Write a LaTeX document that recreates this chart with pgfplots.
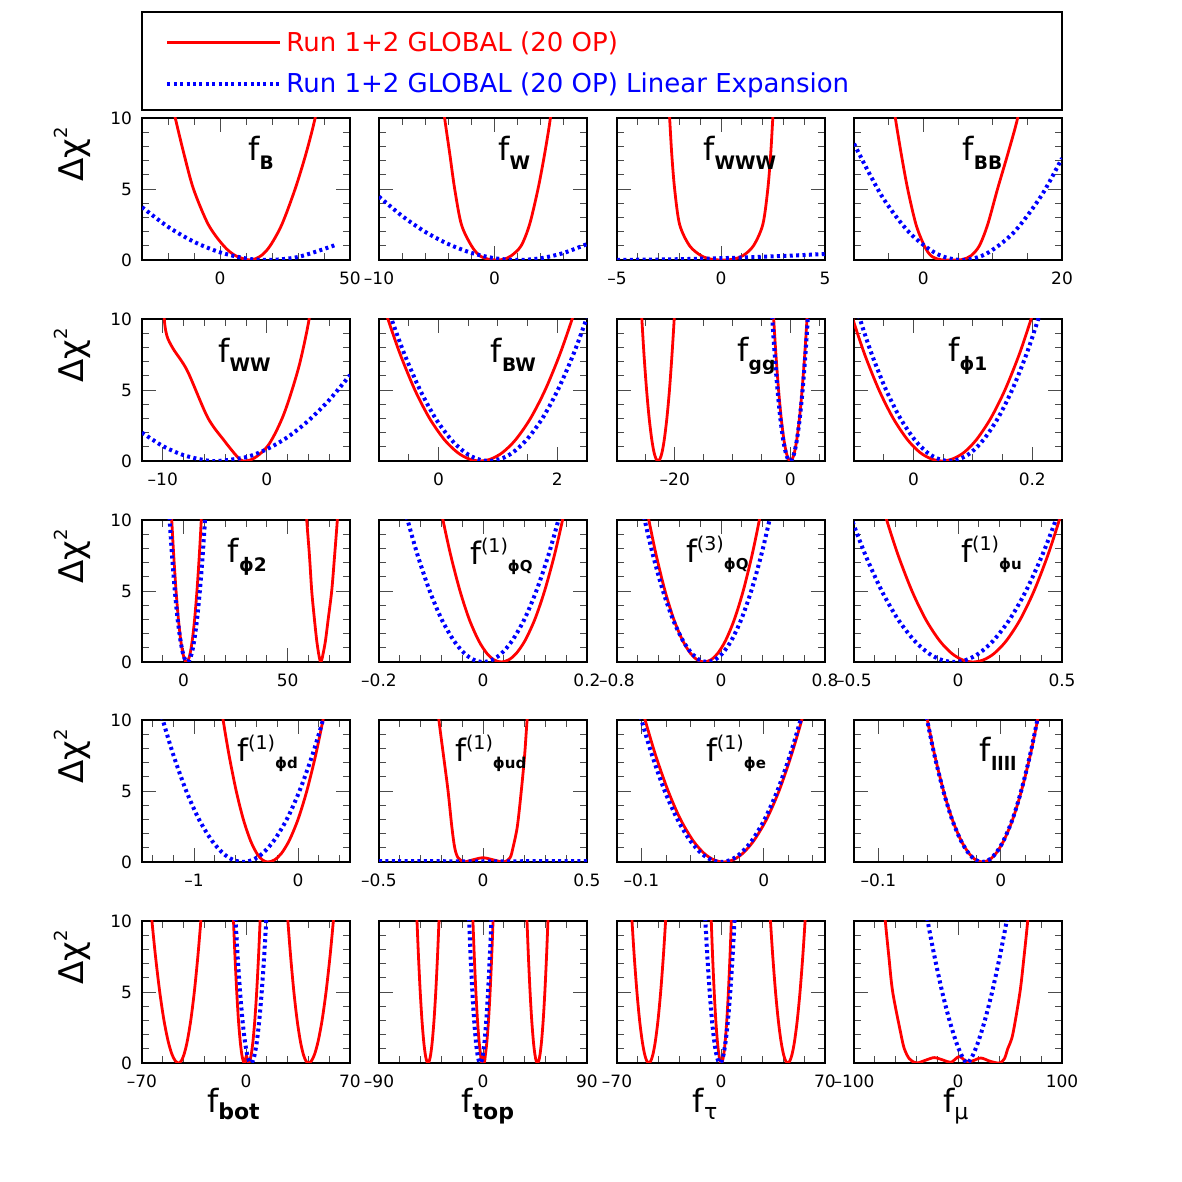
\documentclass[border=0pt]{standalone}
\usepackage{pgfplots}
\pgfplotsset{compat=1.18}
\usepackage{fontspec}
\setmainfont{DejaVu Sans}

% panel titles: f with subscript, or with superscript and subscript
\newcommand{\fs}[1]{{\fontsize{16}{16}\selectfont f}\raisebox{-4.5pt}{\fontsize{9.3}{10}\selectfont\bfseries #1}}
\newcommand{\fss}[2]{{\fontsize{15.5}{16}\selectfont f}\raisebox{6pt}{\fontsize{9.5}{10}\selectfont #1}\raisebox{-3.5pt}{\fontsize{7.5}{8}\selectfont\bfseries #2}}
\newcommand{\fx}[1]{{\fontsize{16}{16}\selectfont f}\raisebox{-3.5pt}{\fontsize{11}{12}\selectfont #1}}
\newcommand{\dchi}{{\fontsize{17}{17}\selectfont Δχ}\raisebox{8pt}{\fontsize{9}{10}\selectfont 2}}
\newcommand{\ttl}[3]{\node[anchor=base west, inner sep=0pt] at (rel axis cs:#1,#2) {#3};}

\pgfplotsset{
  panel/.style={
    scale only axis, width=104pt, height=71pt,
    ymin=0, ymax=10,
    ytick={0,5,10}, yticklabels={0,5,10},
    minor ytick={1,2,3,4,6,7,8,9},
    tick align=inside, xtick pos=both, ytick pos=both,
    major tick length=7pt, minor tick length=3.7pt,
    tick style={black!70, line width=0.45pt},
    axis line style={line width=0.6pt},
    tick label style={font=\fontsize{8.5}{10}\selectfont},
    xticklabel style={yshift=-2.5pt},
    yticklabel style={xshift=-1.5pt},
    every axis y label/.style={at={(axis description cs:-0.279,0.986)}, anchor=base east, rotate=90},
    clip=true,
  },
  nolab/.style={yticklabels={}},
  pr/.style={red, line width=1.4pt, smooth},
  pb/.style={blue, line width=2pt, dash pattern=on 1.5pt off 1.7pt, smooth},
}

\begin{document}
\begin{tikzpicture}
\path[use as bounding box] (0,0) rectangle (591pt,591pt);

% ---------------- legend ----------------
\begin{axis}[at={(71pt,536pt)}, anchor=south west, scale only axis,
  width=460pt, height=49pt, xmin=0, xmax=1, ymin=0, ymax=1,
  xtick=\empty, ytick=\empty, axis line style={line width=0.6pt},
  legend cell align=left,
  legend style={at={(axis description cs:0,0.5)}, anchor=west, xshift=11.5pt, yshift=-1.2pt,
    draw=none, fill=none, font=\fontsize{13}{14}\selectfont, row sep=5.3pt, inner sep=0pt},
  legend image code/.code={\draw[#1] (0pt,0pt) -- (56.5pt,0pt);},
]
\addlegendimage{red, line width=1.4pt}
\addlegendentry{\textcolor{red}{Run 1+2 GLOBAL (20 OP)}}
\addlegendimage{blue, line width=2pt, dash pattern=on 1.5pt off 1.7pt}
\addlegendentry{\textcolor{blue}{Run 1+2 GLOBAL (20 OP) Linear Expansion}}
\end{axis}

% ---------------- row 1 ----------------
\begin{axis}[panel, at={(71pt,461pt)}, anchor=south west, xmin=-30, xmax=50,
  xtick={0,50}, xticklabels={0,50}, minor xtick={-20,-10,...,40}, ylabel={\dchi}]
\addplot[pr] coordinates {(-19.5,12) (-17.2,10) (-13.9,7.5) (-10.2,5) (-4.5,2.5) (1.4,1) (6,0.3) (11.6,0) (15.8,0.3) (19.3,1) (23.8,2.5) (28.9,5) (33.1,7.5) (36.6,10) (38.5,12)};
\addplot[pb] coordinates {(-30,3.72) (-20,2.34) (-10,1.28) (0,0.54) (10,0.11) (18.5,0) (30,0.21) (44,1.03)};
\ttl{0.51}{0.70}{\fs{B}}
\end{axis}

\begin{axis}[panel, nolab, at={(189.5pt,461pt)}, anchor=south west, xmin=-10, xmax=8,
  xtick={-10,0}, xticklabels={–10,0}, minor xtick={-8,-6,-4,-2,2,4,6}]
\addplot[pr] coordinates {(-4.6,12) (-4.32,10) (-3.88,7.5) (-3.45,5) (-2.87,2.5) (-2.0,1) (-1.28,0.3) (-0.5,0.05) (0.2,0) (0.8,0.05) (1.45,0.3) (2.3,1) (3.03,2.5) (3.76,5) (4.34,7.5) (4.83,10) (5.05,12)};
\addplot[pb] coordinates {(-10,4.46) (-8,3.1) (-6,1.98) (-4,1.12) (-2,0.5) (0,0.124) (2,0) (4,0.124) (6,0.5) (8,1.12)};
\ttl{0.572}{0.70}{\fs{W}}
\end{axis}

\begin{axis}[panel, nolab, at={(308.5pt,461pt)}, anchor=south west, xmin=-5, xmax=5,
  xtick={-5,0,5}, xticklabels={–5,0,5}, minor xtick={-4,-3,-2,-1,1,2,3,4}]
\addplot[pr] coordinates {(-2.55,12) (-2.47,10) (-2.37,7.5) (-2.23,5) (-1.99,2.5) (-1.51,1) (-0.95,0.3) (-0.45,0.05) (0.05,0) (0.55,0.05) (1.05,0.3) (1.56,1) (2.01,2.5) (2.25,5) (2.39,7.5) (2.49,10) (2.57,12)};
\addplot[pb] coordinates {(-5,0.004) (-2.5,0.043) (0,0.126) (2.5,0.253) (5,0.42)};
\ttl{0.413}{0.70}{\fs{WWW}}
\end{axis}

\begin{axis}[panel, nolab, at={(427pt,461pt)}, anchor=south west, xmin=-10, xmax=20,
  xtick={0,20}, xticklabels={0,20}, minor xtick={-5,5,10,15}]
\addplot[pr] coordinates {(-4.6,12) (-4.04,10) (-3.2,7.5) (-2.26,5) (-1.06,2.5) (0.14,1) (1.1,0.3) (2.4,0.03) (4,0) (5.6,0.03) (6.87,0.3) (8.08,1) (9.28,2.5) (10.7,5) (12.2,7.5) (13.6,10) (14.2,12)};
\addplot[pb] coordinates {(-10,8.19) (-6,4.51) (-2,1.92) (2,0.42) (5.5,0) (9,0.42) (13,1.92) (17,4.51) (20,7.17)};
\ttl{0.52}{0.70}{\fs{BB}}
\end{axis}

% ---------------- row 2 ----------------
\begin{axis}[panel, at={(71pt,360.5pt)}, anchor=south west, xmin=-12, xmax=8,
  xtick={-10,0}, xticklabels={–10,0}, minor xtick={-8,-6,-4,-2,2,4,6}, ylabel={\dchi}]
\addplot[pr] coordinates {(-9.9,12) (-9.86,10) (-9.6,8.8) (-9.0,7.9) (-7.64,6.35) (-5.68,3.06) (-4.07,1.41) (-2.9,0.35) (-2.3,0) (-1.2,0.2) (0.21,1.18) (1.64,3.3) (3.07,6.6) (4.07,10) (4.3,12)};
\addplot[pb] coordinates {(-12,2.0) (-10,1.05) (-8,0.41) (-6,0.063) (-4.7,0) (-2,0.27) (0,0.83) (2,1.68) (4,2.84) (6,4.29) (8,6.05)};
\ttl{0.365}{0.694}{\fs{WW}}
\end{axis}

\begin{axis}[panel, nolab, at={(189.5pt,360.5pt)}, anchor=south west, xmin=-1, xmax=2.5,
  xtick={0,2}, xticklabels={0,2}, minor xtick={-0.5,0.5,1,1.5}]
\addplot[pr] coordinates {(-0.997,12) (-0.85,10) (-0.642,7.5) (-0.396,5) (-0.149,3) (0.1,1.5) (0.32,0.6) (0.511,0.15) (0.7,0) (0.889,0.15) (1.08,0.6) (1.3,1.5) (1.549,3) (1.796,5) (2.042,7.5) (2.25,10) (2.397,12)};
\addplot[pb] coordinates {(-0.946,12) (-0.79,10) (-0.57,7.5) (-0.309,5) (-0.049,3) (0.215,1.5) (0.448,0.6) (0.65,0.15) (0.85,0) (1.05,0.15) (1.252,0.6) (1.485,1.5) (1.749,3) (2.009,5) (2.27,7.5) (2.49,10) (2.646,12)};
\ttl{0.536}{0.694}{\fs{BW}}
\end{axis}

\begin{axis}[panel, nolab, at={(308.5pt,360.5pt)}, anchor=south west, xmin=-30, xmax=6,
  xtick={-20,0}, xticklabels={–20,0}, minor xtick={-25,-15,-10,-5,5}]
\addplot[pr] coordinates {(-25.97,12) (-25.7,10) (-25.33,7.5) (-24.88,5) (-24.43,3) (-23.98,1.5) (-23.59,0.6) (-23.24,0.15) (-22.9,0) (-22.56,0.15) (-22.21,0.6) (-21.82,1.5) (-21.37,3) (-20.92,5) (-20.48,7.5) (-20.1,10) (-19.83,12)};
\addplot[pr] coordinates {(-3.154,12) (-2.88,10) (-2.494,7.5) (-2.036,5) (-1.578,3) (-1.115,1.5) (-0.706,0.6) (-0.351,0.15) (0,0) (0.351,0.15) (0.706,0.6) (1.115,1.5) (1.578,3) (2.036,5) (2.494,7.5) (2.88,10) (3.154,12)};
\addplot[pb] coordinates {(-3.41,12) (-3.12,10) (-2.71,7.5) (-2.22,5) (-1.73,3) (-1.24,1.5) (-0.80,0.6) (-0.425,0.15) (-0.05,0) (0.325,0.15) (0.702,0.6) (1.14,1.5) (1.63,3) (2.12,5) (2.61,7.5) (3.02,10) (3.31,12)};
\ttl{0.577}{0.70}{\fs{gg}}
\end{axis}

\begin{axis}[panel, nolab, at={(427pt,360.5pt)}, anchor=south west, xmin=-0.1, xmax=0.25,
  xtick={0,0.2}, xticklabels={0,0.2}, minor xtick={-0.05,0.05,0.1,0.15}]
\addplot[pr] coordinates {(-0.116,12) (-0.102,10) (-0.082,7.5) (-0.058,5) (-0.034,3) (-0.010,1.5) (0.011,0.6) (0.030,0.15) (0.048,0) (0.066,0.15) (0.085,0.6) (0.106,1.5) (0.130,3) (0.154,5) (0.178,7.5) (0.198,10) (0.212,12)};
\addplot[pb] coordinates {(-0.104,12) (-0.09,10) (-0.07,7.5) (-0.046,5) (-0.022,3) (0.002,1.5) (0.023,0.6) (0.042,0.15) (0.06,0) (0.078,0.15) (0.097,0.6) (0.118,1.5) (0.142,3) (0.166,5) (0.19,7.5) (0.21,10) (0.224,12)};
\ttl{0.452}{0.70}{\fs{ϕ1}}
\end{axis}

% ---------------- row 3 ----------------
\begin{axis}[panel, at={(71pt,260pt)}, anchor=south west, xmin=-20, xmax=80,
  xtick={0,50}, xticklabels={0,50}, minor xtick={-10,10,20,30,40,60,70}, ylabel={\dchi}]
\addplot[pr] coordinates {(-6.37,12) (-5.7,10) (-4.75,7.5) (-3.62,5) (-2.49,3) (-1.35,1.5) (-0.34,0.6) (0.53,0.15) (1.4,0) (2.27,0.15) (3.14,0.6) (4.15,1.5) (5.29,3) (6.42,5) (7.55,7.5) (8.5,10) (9.17,12)};
\addplot[pr] coordinates {(58.5,12) (59.2,10) (60.5,7.5) (61.6,5) (62.9,3) (64.0,1.5) (64.9,0.6) (65.5,0.15) (65.9,0) (66.4,0.15) (67.1,0.6) (68.2,1.5) (69.5,3) (71.2,5) (72.6,7.5) (73.9,10) (74.6,12)};
\addplot[pb] coordinates {(-7.51,12) (-6.7,10) (-5.56,7.5) (-4.21,5) (-2.86,3) (-1.49,1.5) (-0.28,0.6) (0.76,0.15) (1.8,0) (2.84,0.15) (3.88,0.6) (5.09,1.5) (6.46,3) (7.81,5) (9.16,7.5) (10.3,10) (11.11,12)};
\ttl{0.411}{0.70}{\fs{ϕ2}}
\end{axis}

\begin{axis}[panel, nolab, at={(189.5pt,260pt)}, anchor=south west, xmin=-0.2, xmax=0.2,
  xtick={-0.2,0,0.2}, xticklabels={–0.2,0,0.2}, minor xtick={-0.16,-0.12,-0.08,-0.04,0.04,0.08,0.12,0.16}]
\addplot[pr] coordinates {(-0.0876,12) (-0.077,10) (-0.062,7.5) (-0.0442,5) (-0.0264,3) (-0.0083,1.5) (0.0076,0.6) (0.0213,0.15) (0.035,0) (0.0494,0.15) (0.0639,0.6) (0.0807,1.5) (0.0997,3) (0.1184,5) (0.1372,7.5) (0.153,10) (0.1642,12)};
\addplot[pb] coordinates {(-0.1588,12) (-0.145,10) (-0.1256,7.5) (-0.1025,5) (-0.0795,3) (-0.0561,1.5) (-0.0355,0.6) (-0.0177,0.15) (0,0) (0.0177,0.15) (0.0355,0.6) (0.0561,1.5) (0.0795,3) (0.1025,5) (0.1256,7.5) (0.145,10) (0.1588,12)};
\ttl{0.436}{0.69}{\fss{(1)}{ϕQ}}
\end{axis}

\begin{axis}[panel, nolab, at={(308.5pt,260pt)}, anchor=south west, xmin=-0.8, xmax=0.8,
  xtick={-0.8,0,0.8}, xticklabels={–0.8,0,0.8}, minor xtick={-0.64,-0.48,-0.32,-0.16,0.16,0.32,0.48,0.64}]
\addplot[pr] coordinates {(-0.5954,12) (-0.555,10) (-0.498,7.5) (-0.4305,5) (-0.3629,3) (-0.2945,1.5) (-0.2341,0.6) (-0.1819,0.15) (-0.13,0) (-0.0781,0.15) (-0.0259,0.6) (0.0345,1.5) (0.1029,3) (0.1705,5) (0.238,7.5) (0.295,10) (0.3354,12)};
\addplot[pb] coordinates {(-0.6326,12) (-0.587,10) (-0.5227,7.5) (-0.4464,5) (-0.370,3) (-0.2928,1.5) (-0.2246,0.6) (-0.1656,0.15) (-0.107,0) (-0.0484,0.15) (0.0106,0.6) (0.0788,1.5) (0.156,3) (0.2324,5) (0.3087,7.5) (0.373,10) (0.4186,12)};
\ttl{0.33}{0.70}{\fss{(3)}{ϕQ}}
\end{axis}

\begin{axis}[panel, nolab, at={(427pt,260pt)}, anchor=south west, xmin=-0.5, xmax=0.5,
  xtick={-0.5,0,0.5}, xticklabels={–0.5,0,0.5}, minor xtick={-0.4,-0.3,-0.2,-0.1,0.1,0.2,0.3,0.4}]
\addplot[pr] coordinates {(-0.3824,12) (-0.343,10) (-0.2874,7.5) (-0.2214,5) (-0.1554,3) (-0.0886,1.5) (-0.0297,0.6) (0.0214,0.15) (0.072,0) (0.1226,0.15) (0.1737,0.6) (0.2326,1.5) (0.2994,3) (0.3654,5) (0.4314,7.5) (0.487,10) (0.5264,12)};
\addplot[pb] coordinates {(-0.5566,12) (-0.51,10) (-0.4443,7.5) (-0.3664,5) (-0.2885,3) (-0.2096,1.5) (-0.14,0.6) (-0.0798,0.15) (-0.02,0) (0.0398,0.15) (0.10,0.6) (0.1696,1.5) (0.2485,3) (0.3264,5) (0.4043,7.5) (0.47,10) (0.5166,12)};
\ttl{0.514}{0.70}{\fss{(1)}{ϕu}}
\end{axis}

% ---------------- row 4 ----------------
\begin{axis}[panel, at={(71pt,160pt)}, anchor=south west, xmin=-1.5, xmax=0.5,
  xtick={-1,0}, xticklabels={–1,0}, minor xtick={-1.4,-1.2,-0.8,-0.6,-0.4,-0.2,0.2,0.4}, ylabel={\dchi}]
\addplot[pr] coordinates {(-0.7609,12) (-0.72,10) (-0.6624,7.5) (-0.594,5) (-0.5256,3) (-0.4564,1.5) (-0.3954,0.6) (-0.3425,0.15) (-0.29,0) (-0.2253,0.15) (-0.1601,0.6) (-0.0849,1.5) (0.0004,3) (0.0847,5) (0.169,7.5) (0.24,10) (0.2904,12)};
\addplot[pb] coordinates {(-1.3732,12) (-1.30,10) (-1.1968,7.5) (-1.0744,5) (-0.952,3) (-0.828,1.5) (-0.7187,0.6) (-0.6239,0.15) (-0.53,0) (-0.4361,0.15) (-0.3413,0.6) (-0.232,1.5) (-0.108,3) (0.0144,5) (0.1368,7.5) (0.24,10) (0.3132,12)};
\ttl{0.456}{0.71}{\fss{(1)}{ϕd}}
\end{axis}

\begin{axis}[panel, nolab, at={(189.5pt,160pt)}, anchor=south west, xmin=-0.5, xmax=0.5,
  xtick={-0.5,0,0.5}, xticklabels={–0.5,0,0.5}, minor xtick={-0.4,-0.3,-0.2,-0.1,0.1,0.2,0.3,0.4}]
\addplot[pr] coordinates {(-0.225,12) (-0.212,10) (-0.19,7.5) (-0.168,5) (-0.15,2.5) (-0.136,1) (-0.12,0.3) (-0.09,0.02) (-0.05,0.15) (0,0.3) (0.05,0.15) (0.1,0) (0.13,0.3) (0.144,1) (0.165,2.5) (0.184,5) (0.2,7.5) (0.212,10) (0.225,12)};
\addplot[pb] coordinates {(-0.5,0.06) (0,0.05) (0.5,0.06)};
\ttl{0.364}{0.71}{\fss{(1)}{ϕud}}
\end{axis}

\begin{axis}[panel, nolab, at={(308.5pt,160pt)}, anchor=south west, xmin=-0.12, xmax=0.05,
  xtick={-0.1,0}, xticklabels={–0.1,0}, minor xtick={-0.08,-0.06,-0.04,-0.02,0.02,0.04}]
\addplot[pr] coordinates {(-0.1031,12) (-0.097,10) (-0.0884,7.5) (-0.0782,5) (-0.0681,3) (-0.0578,1.5) (-0.0487,0.6) (-0.0408,0.15) (-0.033,0) (-0.0252,0.15) (-0.0173,0.6) (-0.0082,1.5) (0.0022,3) (0.0124,5) (0.0224,7.5) (0.031,10) (0.0371,12)};
\addplot[pb] coordinates {(-0.1062,12) (-0.10,10) (-0.0913,7.5) (-0.081,5) (-0.0706,3) (-0.0602,1.5) (-0.0509,0.6) (-0.0429,0.15) (-0.035,0) (-0.0271,0.15) (-0.0191,0.6) (-0.0098,1.5) (0.0006,3) (0.011,5) (0.0213,7.5) (0.03,10) (0.0362,12)};
\ttl{0.426}{0.71}{\fss{(1)}{ϕe}}
\end{axis}

\begin{axis}[panel, nolab, at={(427pt,160pt)}, anchor=south west, xmin=-0.12, xmax=0.05,
  xtick={-0.1,0}, xticklabels={–0.1,0}, minor xtick={-0.08,-0.06,-0.04,-0.02,0.02,0.04}]
\addplot[pr] coordinates {(-0.0643,12) (-0.06,10) (-0.054,7.5) (-0.0468,5) (-0.0397,3) (-0.0324,1.5) (-0.026,0.6) (-0.0205,0.15) (-0.015,0) (-0.0095,0.15) (-0.004,0.6) (0.0024,1.5) (0.0097,3) (0.0168,5) (0.024,7.5) (0.030,10) (0.0343,12)};
\addplot[pb] coordinates {(-0.0645,12) (-0.0602,10) (-0.0542,7.5) (-0.047,5) (-0.0399,3) (-0.0326,1.5) (-0.0262,0.6) (-0.0207,0.15) (-0.0152,0) (-0.0097,0.15) (-0.0042,0.6) (0.0022,1.5) (0.0095,3) (0.0166,5) (0.0238,7.5) (0.0298,10) (0.0341,12)};
\ttl{0.603}{0.71}{\fs{llll}}
\end{axis}

% ---------------- row 5 ----------------
\begin{axis}[panel, at={(71pt,59.5pt)}, anchor=south west, xmin=-70, xmax=70,
  xtick={-70,0,70}, xticklabels={–70,0,70}, minor xtick={-56,-42,-28,-14,14,28,42,56}, ylabel={\dchi},
  xlabel={\fx{\bfseries bot}}, xlabel style={at={(axis description cs:0.279,-0.352)}, anchor=base west}]
\addplot[pr] coordinates {(-65.0,12) (-63.3,10) (-60.9,7.5) (-58.06,5) (-55.21,3) (-52.33,1.5) (-49.79,0.6) (-47.58,0.15) (-45.4,0) (-43.57,0.15) (-41.72,0.6) (-39.59,1.5) (-37.18,3) (-34.79,5) (-32.41,7.5) (-30.4,10) (-28.97,12)};
\addplot[pr] coordinates {(-9.1,12) (-8.4,10) (-7.41,7.5) (-6.23,5) (-5.06,3) (-3.86,1.5) (-2.81,0.6) (-1.9,0.15) (-1.0,0) (-0.3,0.3) (0.3,0.5) (0.9,0.3) (1.6,0) (2.56,0.15) (3.54,0.6) (4.66,1.5) (5.93,3) (7.19,5) (8.44,7.5) (9.5,10) (10.25,12)};
\addplot[pr] coordinates {(26.89,12) (28.2,10) (30.05,7.5) (32.24,5) (34.44,3) (36.66,1.5) (38.62,0.6) (40.32,0.15) (42,0) (44.05,0.15) (46.12,0.6) (48.5,1.5) (51.21,3) (53.88,5) (56.55,7.5) (58.8,10) (60.4,12)};
\addplot[pb] coordinates {(-7.98,12) (-7.0,10) (-5.62,7.5) (-3.98,5) (-2.34,3) (-0.69,1.5) (0.78,0.6) (2.04,0.15) (3.3,0) (4.56,0.15) (5.82,0.6) (7.29,1.5) (8.94,3) (10.58,5) (12.22,7.5) (13.6,10) (14.58,12)};
\end{axis}

\begin{axis}[panel, nolab, at={(189.5pt,59.5pt)}, anchor=south west, xmin=-90, xmax=90,
  xtick={-90,0,90}, xticklabels={–90,0,90}, minor xtick={-72,-54,-36,-18,18,36,54,72},
  xlabel={\fx{\bfseries top}}, xlabel style={at={(axis description cs:0.362,-0.352)}, anchor=base west}]
\addplot[pr] coordinates {(-58.0,12) (-57.1,10) (-55.83,7.5) (-54.32,5) (-52.81,3) (-51.28,1.5) (-49.93,0.6) (-48.76,0.15) (-47.6,0) (-46.44,0.15) (-45.27,0.6) (-43.92,1.5) (-42.39,3) (-40.88,5) (-39.37,7.5) (-38.1,10) (-37.2,12)};
\addplot[pr] coordinates {(-9.53,12) (-8.7,10) (-7.53,7.5) (-6.15,5) (-4.77,3) (-3.37,1.5) (-2.13,0.6) (-1.2,0.05) (0,0.35) (1.2,0.05) (2.13,0.6) (3.37,1.5) (4.77,3) (6.15,5) (7.53,7.5) (8.7,10) (9.53,12)};
\addplot[pr] coordinates {(37.24,12) (38.1,10) (39.31,7.5) (40.75,5) (42.19,3) (43.65,1.5) (44.93,0.6) (46.05,0.15) (47.15,0) (48.25,0.15) (49.37,0.6) (50.65,1.5) (52.11,3) (53.55,5) (54.99,7.5) (56.2,10) (57.06,12)};
\addplot[pb] coordinates {(-12.91,12) (-12.0,10) (-10.71,7.5) (-9.19,5) (-7.66,3) (-6.12,1.5) (-4.75,0.6) (-3.57,0.15) (-2.4,0) (-1.23,0.15) (-0.05,0.6) (1.32,1.5) (2.86,3) (4.39,5) (5.91,7.5) (7.2,10) (8.11,12)};
\end{axis}

\begin{axis}[panel, nolab, at={(308.5pt,59.5pt)}, anchor=south west, xmin=-70, xmax=70,
  xtick={-70,0,70}, xticklabels={–70,0,70}, minor xtick={-56,-42,-28,-14,14,28,42,56},
  xlabel={\fx{τ}}, xlabel style={at={(axis description cs:0.331,-0.352)}, anchor=base west}]
\addplot[pr] coordinates {(-60.97,12) (-59.9,10) (-58.39,7.5) (-56.59,5) (-54.79,3) (-52.97,1.5) (-51.37,0.6) (-49.98,0.15) (-48.6,0) (-47.22,0.15) (-45.83,0.6) (-44.23,1.5) (-42.41,3) (-40.61,5) (-38.81,7.5) (-37.3,10) (-36.23,12)};
\addplot[pr] coordinates {(-7.19,12) (-6.55,10) (-5.65,7.5) (-4.57,5) (-3.5,3) (-2.41,1.5) (-1.45,0.6) (-0.62,0.15) (0.2,0) (1.02,0.15) (1.85,0.6) (2.81,1.5) (3.9,3) (4.97,5) (6.05,7.5) (6.95,10) (7.59,12)};
\addplot[pr] coordinates {(32.19,12) (33.3,10) (34.86,7.5) (36.71,5) (38.57,3) (40.44,1.5) (42.1,0.6) (43.53,0.15) (44.95,0) (46.37,0.15) (47.8,0.6) (49.46,1.5) (51.33,3) (53.19,5) (55.04,7.5) (56.6,10) (57.71,12)};
\addplot[pb] coordinates {(-11.43,12) (-10.5,10) (-9.19,7.5) (-7.63,5) (-6.07,3) (-4.49,1.5) (-3.1,0.6) (-1.9,0.15) (-0.7,0) (0.5,0.15) (1.7,0.6) (3.09,1.5) (4.67,3) (6.23,5) (7.79,7.5) (9.1,10) (10.03,12)};
\end{axis}

\begin{axis}[panel, nolab, at={(427pt,59.5pt)}, anchor=south west, xmin=-100, xmax=100,
  xtick={-100,0,100}, xticklabels={–100,0,100}, minor xtick={-80,-60,-40,-20,20,40,60,80},
  xlabel={\fx{μ}}, xlabel style={at={(axis description cs:0.394,-0.352)}, anchor=base west}]
\addplot[pr] coordinates {(-72,12) (-69.9,10) (-66.5,7.5) (-62.8,5) (-54.8,2) (-51.6,1) (-46.8,0.3) (-40,0) (-31,0.2) (-22.8,0.38) (-14,0.2) (-6.7,0.05) (1,0.45) (8,0.12) (14,0.15) (22,0.35) (31,0.12) (39.7,0) (44.6,0.3) (47.8,1) (52.6,2) (59.6,5) (63.5,7.5) (67,10) (69,12)};
\addplot[pb] coordinates {(-34.1,12) (-29.2,10) (-22.6,7.5) (-15.2,5) (-8.2,3) (-1.9,1.5) (3.0,0.6) (6.5,0.15) (8.8,0) (11.1,0.15) (14.6,0.6) (19.5,1.5) (25.8,3) (32.8,5) (40.2,7.5) (46.8,10) (51.7,12)};
\end{axis}

\end{tikzpicture}
\end{document}
